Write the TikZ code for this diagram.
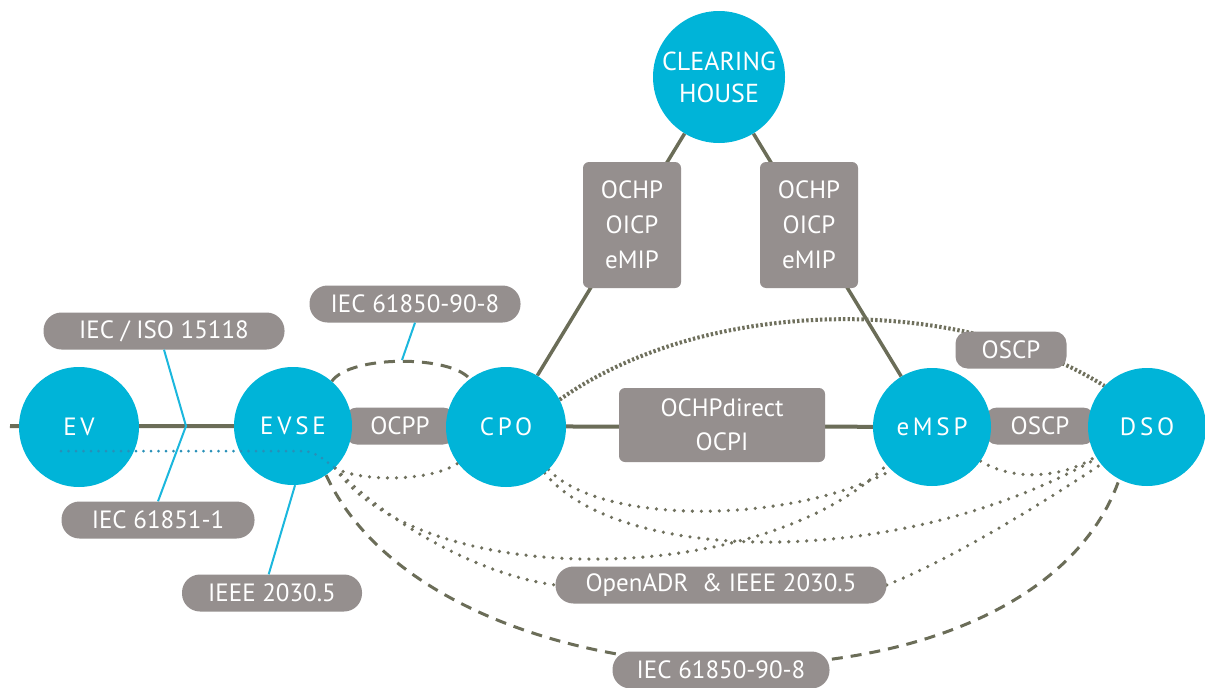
\documentclass[tikz,border=0pt]{standalone}
\usepackage{fontspec}
\setmainfont{PT Sans}
\newfontfamily\hubfam[LetterSpace=15]{PT Sans}
\usetikzlibrary{backgrounds}
\definecolor{cyanfill}{HTML}{00B4D8}
\definecolor{boxgrey}{HTML}{958F8E}
\definecolor{olivel}{HTML}{6B6D58}
\definecolor{dotgrey}{HTML}{6F705D}
\definecolor{bluel}{HTML}{1BB7DD}
\definecolor{bluedotc}{HTML}{2890B8}
\newcommand\mybxfont{\fontsize{25}{34}\selectfont}
\newcommand\myhubfont{\hubfam\fontsize{25}{30}\selectfont}
\newcommand\mychfont{\fontsize{26}{32}\selectfont}
\tikzset{
  hub/.style={circle, fill=cyanfill, text=white, inner sep=0pt, minimum size=118pt, font=\myhubfont},
  pill/.style={fill=boxgrey, text=white, rounded corners=18pt, minimum height=37pt, inner sep=0pt, font=\mybxfont},
  tagbox/.style={fill=boxgrey, text=white, rounded corners=12pt, minimum height=37pt, inner sep=0pt, font=\mybxfont},
  blockbox/.style={fill=boxgrey, text=white, rounded corners=6pt, inner sep=0pt, align=center, font=\mybxfont},
  mainline/.style={draw=olivel, line width=4pt},
  chline/.style={draw=olivel, line width=3.5pt},
  dashlink/.style={draw=olivel, line width=3pt, dash pattern=on 11pt off 8pt},
  dotlink/.style={draw=dotgrey, line width=3.6pt, line cap=round, dash pattern=on 0pt off 9pt},
  densedot/.style={draw=dotgrey, line width=4pt, dash pattern=on 2.4pt off 2.2pt},
  blueline/.style={draw=bluel, line width=2pt},
  bluedot/.style={draw=bluedotc, line width=3pt, line cap=round, dash pattern=on 0pt off 7.5pt}
}
\begin{document}
\begin{tikzpicture}[x=1pt,y=-1pt]
\useasboundingbox (0,0) rectangle (1205,688);
% protocol boxes
\node[tagbox, minimum width=110pt] (ocpp) at (400,426) {OCPP};
\node[tagbox, minimum width=110pt] (oscpmid) at (1040,426) {OSCP};
\node[tagbox, minimum width=111pt] (oscptop) at (1011,350) {OSCP};
\node[blockbox, minimum width=206pt, minimum height=74pt] (direct) at (722,425) {OCHPdirect\\OCPI};
\node[blockbox, minimum width=98pt, minimum height=126pt, font=\fontsize{25}{35}\selectfont] (chl) at (632,225) {OCHP\\OICP\\eMIP};
\node[blockbox, minimum width=98pt, minimum height=126pt, font=\fontsize{25}{35}\selectfont] (chr) at (809,225) {OCHP\\OICP\\eMIP};
\node[pill, minimum width=241pt] (iso) at (164,331) {IEC / ISO 15118};
\node[pill, minimum width=193pt] (iecone) at (158,520) {IEC 61851-1};
\node[pill, minimum width=180pt] (ieee) at (272,593) {IEEE 2030.5};
\node[pill, minimum width=211pt] (iect) at (415,304) {IEC 61850-90-8};
\node[pill, minimum width=331pt] (adr) at (721,585) {OpenADR~ \& IEEE 2030.5};
\node[pill, minimum width=217pt] (iecb) at (721,670) {IEC 61850-90-8};
% actors
\node[hub, minimum size=120pt] (ev) at (79,427) {EV};
\node[hub] (evse) at (293,426) {EVSE};
\node[hub, minimum size=120pt] (cpo) at (506,427) {CPO};
\node[hub, minimum size=132pt, font=\mychfont, align=center] (ch) at (719,77) {CLEARING\\HOUSE};
\node[hub] (emsp) at (932,427) {eMSP};
\node[hub] (dso) at (1147,427) {DSO};
\begin{pgfonlayer}{background}
\fill[white] (0,0) rectangle (1205,688);
\coordinate (lstart) at (10,426);
\draw[mainline] (lstart) -- (dso.center);
\draw[chline] (ch) -- (cpo);
\draw[chline] (ch) -- (emsp);
\draw[dashlink] (evse.49) .. controls (350,355) and (450,355) .. (cpo.127);
\draw[dashlink] (evse.-56) .. controls (440,720) and (1030,735) .. (dso.-118);
\draw[densedot] (cpo.27) .. controls (700,300) and (950,290) .. (dso.136);
\draw[dotlink] (evse.-45) .. controls (360,482) and (430,482) .. (cpo.-143);
\draw[dotlink] (evse.-45) .. controls (420,590) and (760,590) .. (emsp.-140);
\draw[dotlink] (evse.-45) .. controls (390,525) and (480,575) .. (adr.west);
\draw[dotlink] (adr.east) .. controls (950,560) and (1040,505) .. (dso.-141);
\draw[dotlink] (cpo.-45) .. controls (600,525) and (790,525) .. (emsp.-133);
\draw[dotlink] (cpo.-50) .. controls (620,565) and (900,570) .. (dso.-148);
\draw[dotlink] (emsp.-35) .. controls (1010,480) and (1060,480) .. (dso.-150);
\end{pgfonlayer}
% blue standards connectors
\coordinate (vtip) at (186,426);
\draw[blueline] (iso.south) -- (vtip) -- (iecone.north);
\draw[blueline] (evse.-88) -- (ieee.100);
\coordinate (arcpeak) at (402,360);
\draw[blueline] (iect.south) -- (arcpeak);
\coordinate (bstart) at (61,451);
\draw[bluedot] (bstart) -- (302,451) .. controls (314,451) and (322,458) .. (evse.-45);
\end{tikzpicture}
\end{document}
